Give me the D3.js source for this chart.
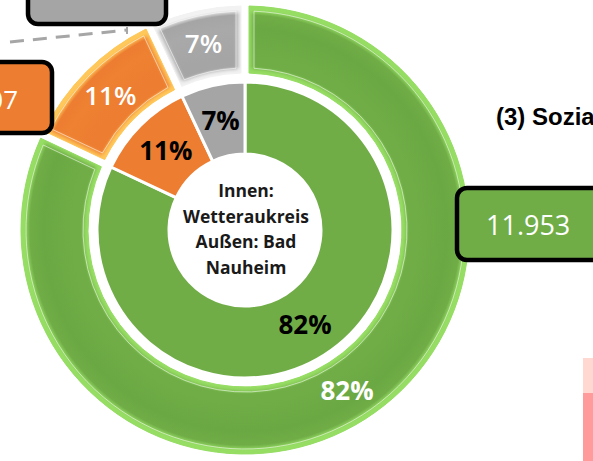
<!DOCTYPE html>
<html>
<head>
<meta charset="utf-8">
<script src="https://cdn.jsdelivr.net/npm/d3@7"></script>
<style>
  html, body { margin: 0; padding: 0; background: #fff; }
  svg { display: block; }
</style>
</head>
<body>
<svg id="chart" width="593" height="461"></svg>
<script>
// ---- data ----
const categories = ["Gruppe 1", "Gruppe 2", "Gruppe 3"];
const innerValues = [82, 11, 7];   // Innen: Wetteraukreis
const outerValues = [82, 11, 7];   // Außen: Bad Nauheim
const boxLabels = ["11.953", "1.607", "1.017"];
const centerLines = ["Innen:", "Wetteraukreis", "Außen: Bad", "Nauheim"];
const sideTitle = "(3) Sozia";

// ---- styles ----
const baseColors = ["#70AD47", "#ED7D31", "#A5A5A5"];
const lightColors = ["#96DD64", "#FFC85A", "#F2F2F2"];
const midColors = ["#6AA843", "#EE8132", "#A9A9A9"];
const FONT = "'Open Sans', 'Noto Sans', sans-serif";

const svg = d3.select("#chart");
const W = 593, H = 461;
svg.append("rect").attr("width", W).attr("height", H).attr("fill", "#fff");

const cx = 245, cy = 230;
const holeR = 76, innerOuterR = 148, outerInnerR = 157, outerOuterR = 224;

const defs = svg.append("defs");
const blur = defs.append("filter").attr("id", "soft").attr("x", "-20%").attr("y", "-20%").attr("width", "140%").attr("height", "140%");
blur.append("feGaussianBlur").attr("stdDeviation", 2.2);

baseColors.forEach((c, i) => {
  const g = defs.append("radialGradient").attr("id", "rg" + i)
    .attr("gradientUnits", "userSpaceOnUse").attr("cx", 0).attr("cy", 0).attr("r", outerOuterR);
  const f = outerInnerR / outerOuterR;
  [[f, lightColors[i]], [f + 0.03, c], [f + 0.07, c], [0.9, midColors[i]], [0.96, c], [0.985, lightColors[i]], [1, lightColors[i]]]
    .forEach(([o, col]) => g.append("stop").attr("offset", o).attr("stop-color", col));
});

const pie = d3.pie().sort(null).value(d => d);
const innerArcs = pie(innerValues);
const outerArcs = pie(outerValues);

const root = svg.append("g").attr("transform", `translate(${cx},${cy})`);

// ---- inner ring ----
const innerArc = d3.arc().innerRadius(holeR).outerRadius(innerOuterR);
root.selectAll("path.inner").data(innerArcs).join("path")
  .attr("class", "inner")
  .attr("d", innerArc)
  .attr("fill", (d, i) => baseColors[i])
  .attr("stroke", "#fff").attr("stroke-width", 3);

// ---- outer ring (beveled) ----
const gap = 8;
const outerArc = d3.arc().innerRadius(outerInnerR).outerRadius(outerOuterR)
  .padRadius(outerOuterR).padAngle(gap / outerOuterR);
const insetArc = d3.arc().innerRadius(outerInnerR + 5).outerRadius(outerOuterR - 5)
  .padRadius(outerOuterR).padAngle((gap + 10) / outerOuterR);

outerArcs.forEach((d, i) => {
  const cp = defs.append("clipPath").attr("id", "cp" + i);
  cp.append("path").attr("d", outerArc(d));
  const g = root.append("g");
  g.append("path").attr("d", outerArc(d)).attr("fill", `url(#rg${i})`);
  g.append("g").attr("clip-path", `url(#cp${i})`)
    .append("path").attr("d", outerArc(d))
    .attr("fill", "none").attr("stroke", lightColors[i]).attr("stroke-width", 6)
    .attr("filter", "url(#soft)");
  g.append("path").attr("d", insetArc(d))
    .attr("fill", "none").attr("stroke", "#fff").attr("stroke-opacity", 0.55).attr("stroke-width", 1);
  g.append("path").attr("d", outerArc(d))
    .attr("fill", "none").attr("stroke", lightColors[i]).attr("stroke-width", 1);
});

// ---- labels ----
const innerLabelArc = d3.arc().innerRadius(holeR).outerRadius(innerOuterR);
root.selectAll("text.il").data(innerArcs).join("text")
  .attr("class", "il")
  .attr("transform", d => `translate(${innerLabelArc.centroid(d)})`)
  .attr("text-anchor", "middle").attr("dy", "0.36em")
  .attr("font-family", FONT).attr("font-weight", 700).attr("font-size", 26)
  .attr("fill", "#000")
  .text(d => d.data + "%");

const outerLabelArc = d3.arc().innerRadius(outerInnerR).outerRadius(outerOuterR);
root.selectAll("text.ol").data(outerArcs).join("text")
  .attr("class", "ol")
  .attr("transform", d => `translate(${outerLabelArc.centroid(d)})`)
  .attr("text-anchor", "middle").attr("dy", "0.36em")
  .attr("font-family", FONT).attr("font-weight", (d, i) => i === 0 ? 700 : 600).attr("font-size", 26)
  .attr("fill", "#fff")
  .text(d => d.data + "%");

// ---- center text ----
const ct = root.append("text").attr("text-anchor", "middle")
  .attr("font-family", FONT).attr("font-weight", 700).attr("font-size", 17.5).attr("fill", "#1a1a1a");
centerLines.forEach((t, i) => {
  ct.append("tspan").attr("x", 1).attr("y", -33 + i * 25.5).text(t);
});

// ---- leader line ----
svg.append("path")
  .attr("d", d3.line()([[10, 42], [128, 30]]))
  .attr("stroke", "#A6A6A6").attr("stroke-width", 3).attr("stroke-dasharray", "14,9").attr("fill", "none");
svg.append("path")
  .attr("d", d3.line()([[127, 27], [127, 34]]))
  .attr("stroke", "#A6A6A6").attr("stroke-width", 2).attr("fill", "none");

// ---- value boxes ----
const boxes = [
  { i: 2, x: 28, y: -30, w: 138, h: 54 },
  { i: 1, x: -90, y: 62, w: 142, h: 71 },
  { i: 0, x: 457, y: 188, w: 200, h: 72 }
];
boxes.forEach(b => {
  svg.append("rect").attr("x", b.x).attr("y", b.y).attr("width", b.w).attr("height", b.h)
    .attr("rx", 10).attr("fill", baseColors[b.i]).attr("stroke", "#000").attr("stroke-width", 4.5);
});
svg.append("text").attr("x", 18).attr("y", 109).attr("text-anchor", "end")
  .attr("font-family", FONT).attr("font-size", 26).attr("fill", "#fff").text(boxLabels[1]);
svg.append("text").attr("x", 486).attr("y", 235).attr("text-anchor", "start")
  .attr("font-family", FONT).attr("font-size", 27).attr("fill", "#fff").text(boxLabels[0]);

// ---- side title ----
svg.append("text").attr("x", 496).attr("y", 125)
  .attr("font-family", "'Liberation Sans Narrow', 'Liberation Sans', Arial, sans-serif")
  .attr("font-weight", 700).attr("font-size", 24).attr("fill", "#000").text(sideTitle);

// ---- neighbouring chart fragment ----
svg.append("rect").attr("x", 583).attr("y", 358).attr("width", 10).attr("height", 35).attr("fill", "#FFD8D2");
svg.append("rect").attr("x", 583).attr("y", 393).attr("width", 10).attr("height", 68).attr("fill", "#FF9B9B");
</script>
</body>
</html>
